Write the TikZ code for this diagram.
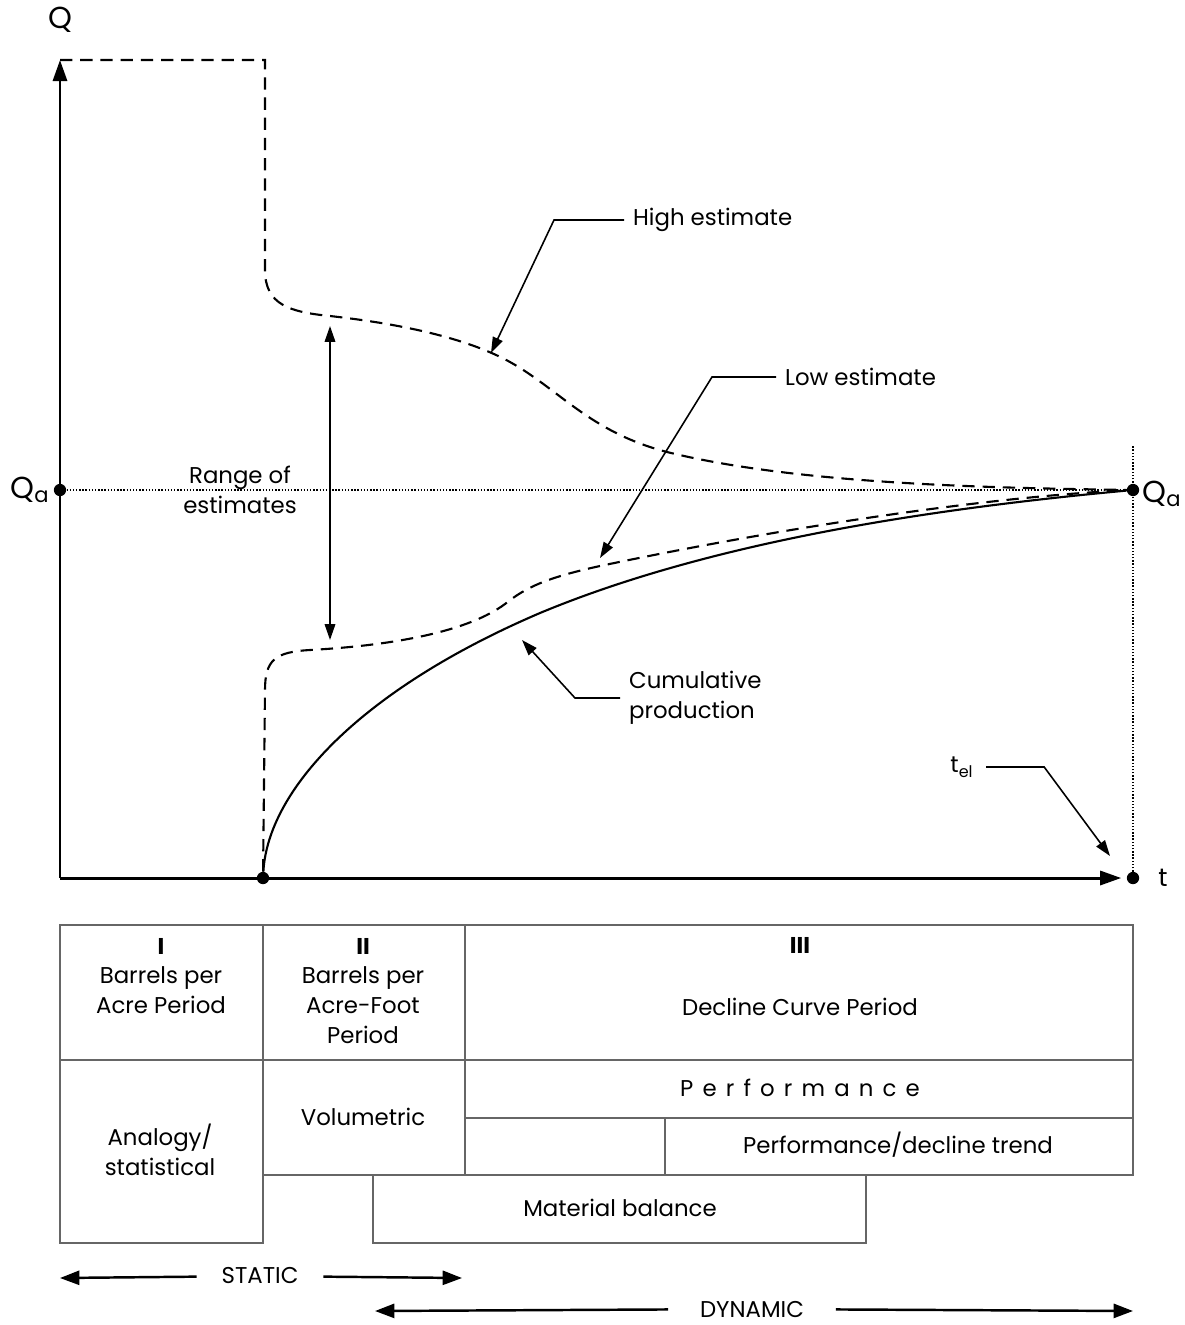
\documentclass[tikz,border=0pt]{standalone}
\usepackage{fontspec}
\setmainfont{Poppins}
\usetikzlibrary{arrows.meta}

\begin{document}
\begin{tikzpicture}[x=0.02cm, y=-0.02cm, font=\fontsize{13}{17}\selectfont,
    axis/.style={line width=1.7pt, -{Triangle[length=12pt, width=8pt]}},
    est/.style={line width=1.2pt, dash pattern=on 7pt off 4.5pt},
    cum/.style={line width=1.2pt},
    ptr/.style={line width=0.9pt, -{Triangle[length=9pt, width=6pt]}},
    rng/.style={line width=0.9pt, {Triangle[length=9pt, width=6pt]}-{Triangle[length=9pt, width=6pt]}},
    span/.style={line width=1.4pt, -{Triangle[length=11pt, width=8pt]}},
    guide/.style={line width=0.8pt, densely dotted},
    tbl/.style={line width=0.6pt, black!60},
    dot/.style={circle, fill, inner sep=0pt, minimum size=7pt},
    lbl/.style={inner sep=1pt, align=center}]
    \useasboundingbox (0,0) rectangle (1184,1325);

    \coordinate (O) at (60,878);
    \coordinate (Qtop) at (60,60);
    \coordinate (Vtop) at (1133,445);
    \node[dot] (T0) at (263,878) {};
    \node[dot] (Tel) at (1133,878) {};
    \node[dot] (Qa) at (60,490) {};
    \node[dot] (QaEnd) at (1133,490) {};
    \node[lbl, font=\LARGE] (Qlbl) at (60,20) {Q};
    \node[lbl, font=\Large] (tlbl) at (1163,878) {t};
    \node[lbl, font=\LARGE] (QaL) at (30,490) {Q\textsubscript{a}};
    \node[lbl, font=\LARGE] (QaR) at (1162,494) {Q\textsubscript{a}};

    \draw[axis] (O) -- (Qtop);
    \draw[axis, shorten >=3pt] (O) -- (Tel);
    \draw[guide] (Qa) -- (QaEnd);
    \draw[guide] (Tel) -- (Vtop);

    % estimates and production
    \draw[est] (Qtop) -- (265,60) -- (265,270)
        .. controls (265,305) and (290,312) .. (330,316)
        .. controls (410,325) and (470,340) .. (510,362)
        .. controls (560,390) and (590,432) .. (667,452)
        .. controls (800,485) and (1000,488) .. (QaEnd);
    \draw[est] (T0) -- (265,690)
        .. controls (265,660) and (275,652) .. (310,650)
        .. controls (400,645) and (470,630) .. (505,604)
        .. controls (525,588) and (545,578) .. (600,566)
        .. controls (800,524) and (1000,496) .. (QaEnd);
    \draw[cum] (T0) .. controls (268,790) and (360,690) .. (540,613)
        .. controls (720,538) and (950,507) .. (QaEnd);

    \coordinate (rTop) at (330,326);
    \coordinate (rBot) at (330,640);
    \draw[rng] (rTop) -- (rBot);
    \node[lbl] (range) at (240,490) {Range of\\estimates};

    \coordinate (hTip) at (491,353);
    \coordinate (lTip) at (600,558);
    \coordinate (cTip) at (522,640);
    \coordinate (tTip) at (1110,856);
    \node[lbl, anchor=west, inner xsep=5pt] (high) at (624,220) {High estimate};
    \node[lbl, anchor=west, inner xsep=5pt] (low) at (776,377) {Low estimate};
    \node[lbl, anchor=west, inner xsep=5pt, align=left] (cumu) at (620,698) {Cumulative\\production};
    \node[lbl, inner xsep=7pt] (tel) at (962,767) {t\textsubscript{el}};
    \draw[ptr] (high.west) -- ++(-70,0) -- (hTip);
    \draw[ptr] (low.west) -- ++(-64,0) -- (lTip);
    \draw[ptr] (cumu.west) -- ++(-45,0) -- (cTip);
    \draw[ptr] (tel.east) -- ++(58,0) -- (tTip);

    % methods table
    \draw[tbl] (60,925) rectangle (1133,1060);
    \draw[tbl] (263,925) -- (263,1060);
    \draw[tbl] (465,925) -- (465,1060);
    \draw[tbl] (60,1060) rectangle (263,1243);
    \draw[tbl] (263,1060) rectangle (465,1175);
    \draw[tbl] (465,1060) rectangle (1133,1175);
    \draw[tbl] (465,1118) -- (1133,1118);
    \draw[tbl] (665,1118) -- (665,1175);
    \draw[tbl] (373,1175) rectangle (866,1243);

    \node[lbl] (per1) at (161,976) {\textbf{I}\\Barrels per\\Acre Period};
    \node[lbl] (per2) at (363,991) {\textbf{II}\\Barrels per\\Acre-Foot\\Period};
    \node[lbl] (per3) at (800,945) {\textbf{III}};
    \node[lbl] (decl) at (800,1007) {Decline Curve Period};
    \node[lbl] (perf) at (800,1088) {\addfontfeature{LetterSpace=40}Performance};
    \node[lbl] (vol) at (363,1117) {Volumetric};
    \node[lbl] (anal) at (160,1150) {Analogy/\\statistical};
    \node[lbl] (trend) at (898,1145) {Performance/decline trend};
    \node[lbl] (matb) at (620,1208) {Material balance};

    \coordinate (sL) at (60,1278);
    \coordinate (sR) at (462,1278);
    \coordinate (dL) at (375,1311);
    \coordinate (dR) at (1133,1311);
    \node[lbl, inner xsep=14pt] (static) at (260,1276) {STATIC};
    \node[lbl, inner xsep=18pt] (dyn) at (752,1309) {DYNAMIC};
    \draw[span] (static) -- (sL);
    \draw[span] (static) -- (sR);
    \draw[span] (dyn) -- (dL);
    \draw[span] (dyn) -- (dR);
\end{tikzpicture}
\end{document}
